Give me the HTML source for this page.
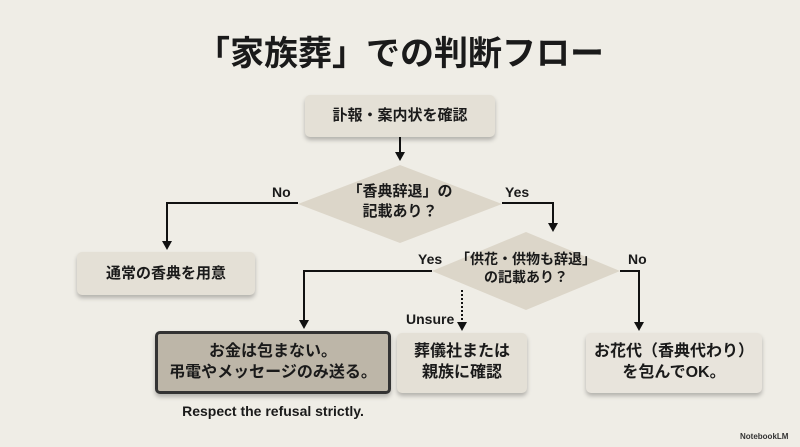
<!DOCTYPE html>
<html><head><meta charset="utf-8"><style>
body{margin:0;width:800px;height:447px;background:#efede6;overflow:hidden;position:relative;font-family:"Liberation Sans","Noto Sans CJK JP",sans-serif;color:#1a1a1a}
.t{position:absolute;font-weight:bold;white-space:nowrap}
.box{position:absolute;background:#e4e0d6;border-radius:5px;box-shadow:0 3px 4px rgba(0,0,0,.25);display:flex;align-items:center;justify-content:center;text-align:center;font-weight:bold;line-height:1.3}
</style></head><body>
<svg width="800" height="447" style="position:absolute;left:0;top:0">
<polygon points="400,165 502,204 400,243 298,204" fill="#dcd6c9"/>
<polygon points="526,232 620,271 526,310 432,271" fill="#dcd6c9"/>
<g stroke="#111" stroke-width="2" fill="none">
<path d="M400,137 V153"/>
<path d="M298,203 H167 V242"/>
<path d="M502,203 H553 V224"/>
<path d="M432,271 H304 V321"/>
<path d="M620,271 H639 V323"/>
<path d="M462,290 V323" stroke-dasharray="2,2"/>
</g>
<g fill="#111">
<polygon points="395,152 405,152 400,161"/>
<polygon points="162,241 172,241 167,250"/>
<polygon points="548,223 558,223 553,232"/>
<polygon points="299,320 309,320 304,329"/>
<polygon points="634,322 644,322 639,331"/>
<polygon points="457,322 467,322 462,331"/>
</g>
</svg>
<div class="t" style="left:0;width:800px;top:26px;text-align:center;font-size:34px">「家族葬」での判断フロー</div>
<div class="box" style="left:305px;top:95px;width:190px;height:42px;font-size:15px">訃報・案内状を確認</div>
<div class="t" style="left:335px;width:130px;top:182px;text-align:center;font-size:15px;line-height:1.3">「香典辞退」の<br>記載あり？</div>
<div class="t" style="left:456px;width:140px;top:250px;text-align:center;font-size:14px;line-height:1.3">「供花・供物も辞退」<br>の記載あり？</div>
<div class="t" style="left:272px;top:184px;font-size:14px">No</div>
<div class="t" style="left:505px;top:184px;font-size:14px">Yes</div>
<div class="t" style="left:418px;top:251px;font-size:14px">Yes</div>
<div class="t" style="left:628px;top:251px;font-size:14px">No</div>
<div class="t" style="left:406px;top:311px;font-size:14px">Unsure</div>
<div class="box" style="left:77px;top:252px;width:178px;height:43px;font-size:15px">通常の香典を用意</div>
<div class="box" style="left:155px;top:331px;width:230px;height:57px;font-size:16px;background:#bdb6a8;border:3px solid #333">お金は包まない。<br>弔電やメッセージのみ送る。</div>
<div class="box" style="left:397px;top:333px;width:130px;height:60px;font-size:16px">葬儀社または<br>親族に確認</div>
<div class="box" style="left:586px;top:333px;width:176px;height:60px;font-size:16px;background:#e8e4dc">お花代（香典代わり）<br>を包んでOK。</div>
<div class="t" style="left:155px;width:236px;top:403px;text-align:center;font-size:14px">Respect the refusal strictly.</div>
<div class="t" style="left:740px;top:432px;font-size:8px;color:#333">NotebookLM</div>
</body></html>
